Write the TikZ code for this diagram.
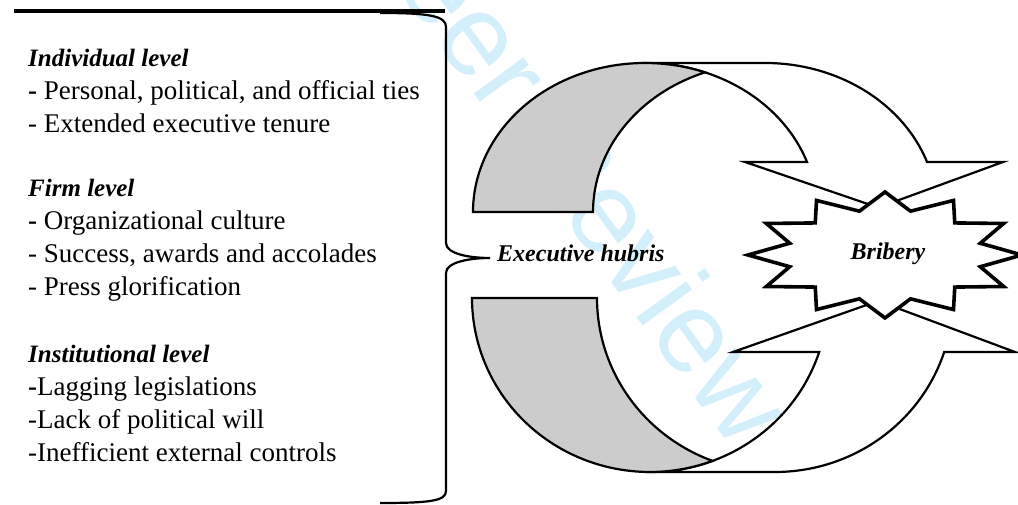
\documentclass[tikz,border=0pt]{standalone}
\usepackage{fontspec}
\setmainfont{Liberation Serif}
\newfontfamily\markfont{Liberation Sans}
\usetikzlibrary{calc}
\definecolor{shadegray}{RGB}{204,204,204}
\definecolor{markblue}{RGB}{212,239,252}
\tikzstyle{ribbon}=[draw=black,line width=2.2pt,fill=white]
\tikzstyle{backface}=[draw=black,line width=2.2pt,fill=shadegray]
\tikzstyle{burst}=[draw=black,line width=3.6pt,fill=white,line join=miter]
\tikzstyle{item}=[anchor=base west,inner sep=0pt,font=\fontsize{27}{33}\selectfont]
\tikzstyle{levelhead}=[item,font=\fontsize{25}{33}\selectfont\bfseries\itshape]
\tikzstyle{shapetext}=[inner sep=0pt,font=\fontsize{24}{30}\selectfont\bfseries\itshape]

\begin{document}
\begin{tikzpicture}[x=1pt,y=1pt]
  \useasboundingbox (0,0) rectangle (1018,505);
  \clip (0,0) rectangle (1018,505);
  % watermark
  \node[markblue,font=\markfont\fontsize{116}{116}\selectfont,rotate=-54,anchor=base east,inner sep=0pt] (mark) at (735,52) {For Peer Review};

  % antecedents
  \draw[line width=4pt] (14,494) -- (445,494);
  \node[levelhead] (ind) at (28,438) {Individual level};
  \node[item] (ind1) at (28,405) {{\bfseries -} Personal, political, and official ties};
  \node[item] (ind2) at (28,372) {- Extended executive tenure};
  \node[levelhead] (firm) at (28,308) {Firm level};
  \node[item] (firm1) at (28,275) {{\bfseries -} Organizational culture};
  \node[item] (firm2) at (28,242) {- Success, awards and accolades};
  \node[item] (firm3) at (28,209) {- Press glorification};
  \node[levelhead] (inst) at (28,142) {Institutional level};
  \node[item] (inst1) at (28,109) {{\bfseries -}Lagging legislations};
  \node[item] (inst2) at (28,76) {-Lack of political will};
  \node[item] (inst3) at (28,43) {-Inefficient external controls};

  \node[shapetext,anchor=base west] (hubris) at (497,243) {Executive hubris};
  \coordinate (tip) at ($(hubris.base west)+(-7,4)$);
  \draw[line width=2.2pt] (380,492) .. controls (430,492) and (446,489) .. (446,478)
    -- (446,262) .. controls (446,251) and (470,247) .. (tip)
    .. controls (470,247) and (446,243) .. (446,232)
    -- (446,14) .. controls (446,4) and (430,2) .. (380,2);

  % upper curved arrow
  \draw[ribbon] (645,442) -- (765,442) arc[start angle=90,end angle=19.6,x radius=172,y radius=149]
    -- (1003,343) -- (858,290) -- (900,290) -- (745,343) -- (807,343)
    arc[start angle=19.6,end angle=90,x radius=172,y radius=149] -- cycle;
  \draw[backface] (473,293) arc[start angle=180,end angle=69.58,x radius=172,y radius=149]
    arc[start angle=110.42,end angle=180,x radius=172,y radius=149] -- cycle;

  % lower curved arrow
  \draw[ribbon] (650,33) -- (775,33) arc[start angle=-90,end angle=-18.08,x radius=178,y radius=174]
    -- (1015,153) -- (862,210) -- (895,210) -- (733,153) -- (819.2,153)
    arc[start angle=-18.08,end angle=-90,x radius=178,y radius=174] -- cycle;
  \draw[backface] (472,207) arc[start angle=180,end angle=290.56,x radius=178,y radius=174]
    arc[start angle=249.44,end angle=180,x radius=178,y radius=174] -- cycle;

  % bribery
  \draw[burst] plot[samples at={0,15,...,345},variable=\a]
    ({885+137*ifthenelse(mod(\a,30)==0,1,0.72)*cos(\a)},{250+63*ifthenelse(mod(\a,30)==0,1,0.72)*sin(\a)}) -- cycle;
  \node[shapetext,anchor=base] (bribery) at (888,245) {Bribery};
\end{tikzpicture}
\end{document}
